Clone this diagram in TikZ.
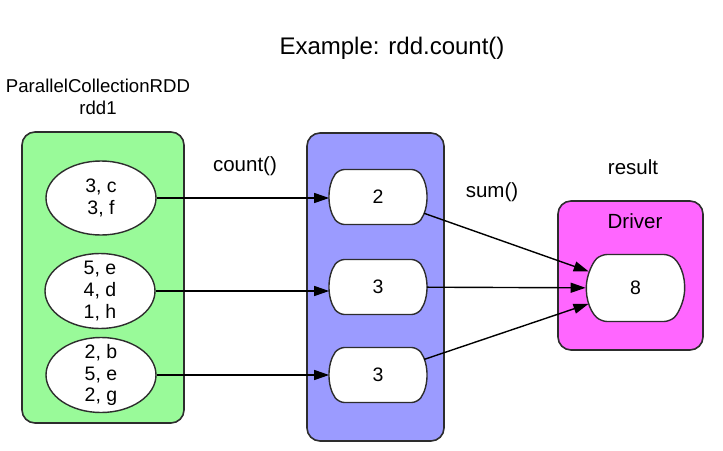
\documentclass[tikz,border=0pt]{standalone}
\usepackage{fontspec}
\setmainfont{Liberation Sans}
\usepackage{tikz}
\usetikzlibrary{arrows.meta,shapes.geometric,shapes.misc}
\usepackage{xcolor}

\definecolor{rddgreen}{RGB}{153,250,153}
\definecolor{partblue}{RGB}{155,155,255}
\definecolor{drivermag}{RGB}{255,102,255}
\definecolor{edge}{RGB}{45,45,45}

\begin{document}
\begin{tikzpicture}[x=1pt,y=-1pt,
  box/.style={draw=edge,line width=1.6pt,rounded corners=13pt},
  part/.style={ellipse,draw=edge,fill=white,line width=1.4pt,minimum width=110pt,minimum height=74pt},
  parttext/.style={align=center,inner sep=0pt,font=\fontsize{19.5}{21.7}\selectfont},
  cnt/.style={rounded rectangle,rounded rectangle arc length=70,rounded corners=6pt,draw=edge,fill=white,line width=1.4pt,
    minimum width=103pt,minimum height=55pt,font=\fontsize{19.5}{22}\selectfont},
  lbl/.style={font=\fontsize{20.5}{24}\selectfont},
  flow/.style={draw=black,line width=1.4pt,-{Triangle[length=15pt,width=10pt]}}]
  \useasboundingbox (0,0) rectangle (723,450);
  \node[font=\fontsize{24}{28}\selectfont] (title) at (392,48) {Example: rdd.count()};
  % left: rdd1 with its three partitions
  \node[font=\fontsize{18.6}{22}\selectfont] (rddname) at (98,86) {ParallelCollectionRDD};
  \node[font=\fontsize{18.6}{22}\selectfont] (rddid) at (98,108) {rdd1};
  \draw[box,fill=rddgreen] (22,132) rectangle (184,423);
  \node[part] (e1) at (101,198) {};
  \node[parttext] (t1) at (e1) {3, c\\3, f};
  \node[part,minimum height=75pt] (e2) at (100,291) {};
  \node[parttext] (t2) at (e2) {5, e\\4, d\\1, h};
  \node[part,minimum height=75pt] (e3) at (101,375) {};
  \node[parttext] (t3) at (e3) {2, b\\5, e\\2, g};
  % middle: counts per partition
  \node[lbl] (count) at (245,166) {count()};
  \draw[box,fill=partblue] (307,133) rectangle (444,441);
  \node[cnt] (c1) at (378,197) {2};
  \node[cnt] (c2) at (378,287) {3};
  \node[cnt] (c3) at (378,375) {3};
  % right: driver
  \node[lbl] (sum) at (492,192) {sum()};
  \node[lbl] (result) at (633,167) {result};
  \draw[box,fill=drivermag] (558,201) rectangle (703,350);
  \node[lbl] (driver) at (635,221) {Driver};
  \node[cnt,rounded rectangle arc length=95,minimum width=105pt,minimum height=67pt] (total) at (635.5,288) {8};
  \draw[flow] (e1.east) -- (e1.east -| c1.west);
  \draw[flow] (e2.east) -- (e2.east -| c2.west);
  \draw[flow] (e3.east) -- (e3.east -| c3.west);
  \draw[flow] (c1) -- (total);
  \draw[flow] (c2) -- (total);
  \draw[flow] (c3) -- (total);
\end{tikzpicture}
\end{document}
